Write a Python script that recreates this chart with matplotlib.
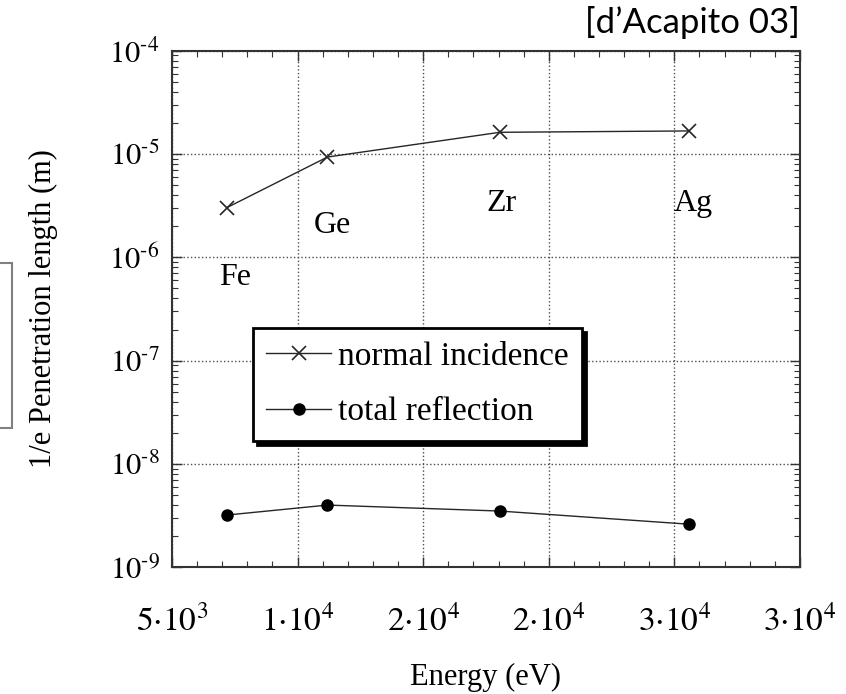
import numpy as np
import matplotlib
matplotlib.use('Agg')
import matplotlib.pyplot as plt
from matplotlib.ticker import FixedLocator, FixedFormatter, LogLocator, NullFormatter
from matplotlib.patches import Rectangle

plt.rcParams['font.family'] = ['Liberation Serif', 'DejaVu Serif']
plt.rcParams['mathtext.fontset'] = 'stix'

# 데이터
elements = ['Fe', 'Ge', 'Zr', 'Ag']
energy = [7180, 11190, 18050, 25570]  # eV
normal_incidence = [3.02e-6, 9.34e-6, 1.62e-5, 1.67e-5]  # m
total_reflection = [3.21e-9, 4.01e-9, 3.51e-9, 2.62e-9]  # m

# 원소 이름 위치
label_x = [7500, 11370, 18100, 25740]
label_y = [6.4e-7, 2.05e-6, 3.35e-6, 3.35e-6]

x_ticks = [5000, 10000, 15000, 20000, 25000, 30000]
x_tick_labels = [r'$5{\cdot}10^{3}$', r'$1{\cdot}10^{4}$', r'$2{\cdot}10^{4}$',
                 r'$2{\cdot}10^{4}$', r'$3{\cdot}10^{4}$', r'$3{\cdot}10^{4}$']
y_ticks = [1e-9, 1e-8, 1e-7, 1e-6, 1e-5, 1e-4]
y_tick_labels = [r'$10^{\text{-}9}$', r'$10^{\text{-}8}$', r'$10^{\text{-}7}$',
                 r'$10^{\text{-}6}$', r'$10^{\text{-}5}$', r'$10^{\text{-}4}$']

fig = plt.figure(figsize=(8.46, 6.94), dpi=100)
ax = fig.add_axes([0.2033, 0.1824, 0.7423, 0.7447])

ax.plot(energy, normal_incidence, color='0.15', lw=1, marker='x', ms=10, mew=1.2,
        label='normal incidence')
ax.plot(energy, total_reflection, color='0.15', lw=1, marker='o', ms=8, mfc='black', mec='black',
        label='total reflection')

ax.set_yscale('log')
ax.set_xlim(5000, 30000)
ax.set_ylim(1e-9, 1e-4)

ax.xaxis.set_major_locator(FixedLocator(x_ticks))
ax.xaxis.set_major_formatter(FixedFormatter(x_tick_labels))
ax.xaxis.set_minor_locator(FixedLocator(np.arange(5000, 30001, 1000)))
ax.yaxis.set_major_locator(FixedLocator(y_ticks))
ax.yaxis.set_major_formatter(FixedFormatter(y_tick_labels))
ax.yaxis.set_minor_locator(LogLocator(base=10, subs=np.arange(2, 10)))
ax.yaxis.set_minor_formatter(NullFormatter())

ax.tick_params(which='both', direction='in', top=True, right=True, colors='0.2')
ax.tick_params(which='major', length=7, width=1, labelcolor='black')
ax.tick_params(which='minor', length=4, width=0.8)
ax.tick_params(axis='x', which='major', pad=27, labelsize=24)
ax.tick_params(axis='y', which='major', pad=9, labelsize=22)

ax.grid(True, which='major', linestyle=':', color='0.3', lw=1)
for s in ax.spines.values():
    s.set_linewidth(1.5)
    s.set_color('0.2')

for name, lx, ly in zip(elements, label_x, label_y):
    ax.text(lx, ly, name, fontsize=23, ha='center', va='center')

ax.set_xlabel('Energy (eV)', fontsize=22, labelpad=18)
ax.set_ylabel('1/e Penetration length (m)', fontsize=22, labelpad=37)

leg = ax.legend(loc='upper left', bbox_to_anchor=(253 / 846, 1 - 328 / 694),
                bbox_transform=fig.transFigure, fontsize=24, frameon=True, fancybox=False,
                shadow={'color': 'black', 'alpha': 1, 'ox': 3, 'oy': -3},
                handlelength=1.95, handletextpad=0.2, borderpad=0.4, labelspacing=0.75,
                borderaxespad=0)
leg.get_frame().set_edgecolor('black')
leg.get_frame().set_linewidth(2)

# 왼쪽에 잘린 상자
fig.add_artist(Rectangle((-0.05, 1 - 428 / 694), 0.05 + 12 / 846, 165 / 694,
                         transform=fig.transFigure, fill=False, ec='0.5', lw=1.5))

fig.text(800 / 846, 1 - 6 / 694, "[d\u2019Acapito 03]", fontsize=25, family='Lato',
         ha='right', va='top')

fig.savefig('out.png', dpi=100)
